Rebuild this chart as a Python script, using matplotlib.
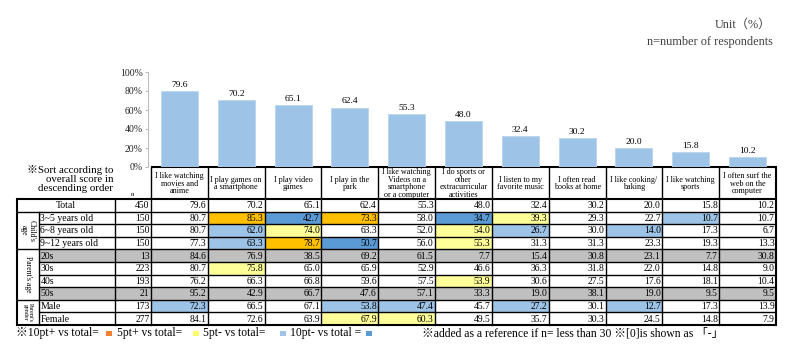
import matplotlib
matplotlib.use('Agg')
import matplotlib.pyplot as plt
from matplotlib.patches import Rectangle

plt.rcParams['font.family'] = ['Liberation Serif', 'Noto Sans CJK JP']

categories = [
    "I like watching\nmovies and\nanime",
    "I play games on\na smartphone",
    "I play video\ngames",
    "I play in the\npark",
    "I like watching\nVideos on a\nsmartphone\nor a computer",
    "I do sports or\nother\nextracurricular\nactivities",
    "I listen to my\nfavorite music",
    "I often read\nbooks at home",
    "I like cooking/\nbaking",
    "I like watching\nsports",
    "I often surf the\nweb on the\ncomputer",
]
row_labels = ["Total", "3~5 years old", "6~8 years old", "9~12 years old",
              "20s", "30s", "40s", "50s", "Male", "Female"]
n_values = [450, 150, 150, 150, 13, 223, 193, 21, 173, 277]

total    = [79.6, 70.2, 65.1, 62.4, 55.3, 48.0, 32.4, 30.2, 20.0, 15.8, 10.2]
age_3_5  = [80.7, 85.3, 42.7, 73.3, 58.0, 34.7, 39.3, 29.3, 22.7, 10.7, 10.7]
age_6_8  = [80.7, 62.0, 74.0, 63.3, 52.0, 54.0, 26.7, 30.0, 14.0, 17.3, 6.7]
age_9_12 = [77.3, 63.3, 78.7, 50.7, 56.0, 55.3, 31.3, 31.3, 23.3, 19.3, 13.3]
par_20s  = [84.6, 76.9, 38.5, 69.2, 61.5, 7.7, 15.4, 30.8, 23.1, 7.7, 30.8]
par_30s  = [80.7, 75.8, 65.0, 65.9, 52.9, 46.6, 36.3, 31.8, 22.0, 14.8, 9.0]
par_40s  = [76.2, 66.3, 66.8, 59.6, 57.5, 53.9, 30.6, 27.5, 17.6, 18.1, 10.4]
par_50s  = [95.2, 42.9, 66.7, 47.6, 57.1, 33.3, 19.0, 38.1, 19.0, 9.5, 9.5]
male     = [72.3, 66.5, 67.1, 53.8, 47.4, 45.7, 27.2, 30.1, 12.7, 17.3, 13.9]
female   = [84.1, 72.6, 63.9, 67.9, 60.3, 49.5, 35.7, 30.3, 24.5, 14.8, 7.9]
table_rows = [total, age_3_5, age_6_8, age_9_12, par_20s, par_30s, par_40s,
              par_50s, male, female]

groups = [("Child's\nage", 1, 3, 5.6), ("Parent's age", 4, 7, 5.6),
          ("Parent's\ngender", 8, 9, 4.3)]
yticks = [0, 20, 40, 60, 80, 100]

C_BAR = '#9DC3E6'
C_UP10, C_UP5, C_DN5, C_DN10 = '#FFC000', '#FFFF99', '#9DC3E6', '#5B9BD5'
C_GRAY = '#C0C0C0'

W, H = 790, 360
fig = plt.figure(figsize=(7.9, 3.6), dpi=100)
fig.patch.set_facecolor('white')

# geometry (pixels)
x_grp, x_lab, x_n, x_d0, x_end = 17, 39, 115, 151, 776
ncol = len(categories)
cw = (x_end - x_d0) / ncol
y_top100, y_head, y_row0, rh = 72, 167, 199, 12.6
nrow = len(row_labels)
y_bot = y_row0 + nrow * rh

# ---- bar chart ----
ax_b = fig.add_axes([x_d0 / W, 1 - y_head / H, (x_end - x_d0) / W, (y_head - y_top100) / H])
xs = list(range(ncol))
ax_b.bar(xs, total, width=0.65, color=C_BAR, edgecolor='#BDD7EE', linewidth=0.7)
for i, v in zip(xs, total):
    ax_b.text(i, v + 2.5, f'{v:.1f}', ha='center', va='bottom', fontsize=6.8)
ax_b.set_xlim(-0.5, ncol - 0.5)
ax_b.set_ylim(0, 100)
ax_b.set_yticks(yticks)
ax_b.set_yticklabels([f'{t}%' for t in yticks])
ax_b.set_xticks([])
for s in ['top', 'right', 'bottom']:
    ax_b.spines[s].set_visible(False)
ax_b.spines['left'].set_color('#BFBFBF')
ax_b.spines['left'].set_position(('outward', 2))
ax_b.tick_params(axis='y', length=2, color='#BFBFBF', pad=2, labelsize=7.0, labelcolor='#222222')
ax_b.patch.set_alpha(0)

# ---- table ----
ax = fig.add_axes([0, 0, 1, 1], zorder=-1)
ax.set_xlim(0, W)
ax.set_ylim(H, 0)
ax.axis('off')

def cell_color(r, c):
    if n_values[r] < 30:
        return C_GRAY
    if r == 0:
        return None
    d = round(table_rows[r][c] - total[c], 1)
    if d >= 10:
        return C_UP10
    if d >= 5:
        return C_UP5
    if d <= -10:
        return C_DN10
    if d <= -5:
        return C_DN5
    return None

fs_num = 6.9
for r in range(nrow):
    yt = y_row0 + r * rh
    yc = yt + rh / 2 + 0.4
    if n_values[r] < 30:
        ax.add_patch(Rectangle((x_lab, yt), x_d0 - x_lab, rh, color=C_GRAY, lw=0))
    for c in range(ncol):
        col = cell_color(r, c)
        xl = x_d0 + c * cw
        if col:
            ax.add_patch(Rectangle((xl, yt), cw, rh, color=col, lw=0))
        ax.text(xl + cw - 1.5, yc, f'{table_rows[r][c]:.1f}', ha='right', va='center', fontsize=fs_num)
    ax.text(x_d0 - 1.5, yc, str(n_values[r]), ha='right', va='center', fontsize=fs_num)
    if r == 0:
        ax.text((x_grp + x_n) / 2, yc, row_labels[r], ha='center', va='center', fontsize=7.0)
    else:
        ax.text(x_lab + 1.5, yc, row_labels[r], ha='left', va='center', fontsize=7.0)

for lab, r0, r1, fs in groups:
    yc = y_row0 + (r0 + r1 + 1) / 2 * rh
    ax.text((x_grp + x_lab) / 2, yc, lab, rotation=-90, ha='center', va='center',
            fontsize=fs, linespacing=0.95, rotation_mode='anchor')

# header labels
for c, lab in enumerate(categories):
    ax.text(x_d0 + (c + 0.5) * cw, (y_head + y_row0) / 2 + 0.5, lab, ha='center', va='center',
            fontsize=5.9, linespacing=0.92)

lw_in, lw_out = 1.0, 1.5
group_bounds = {0, 1, 4, 8, nrow}
for k in range(nrow + 1):
    y = y_row0 + k * rh
    x0 = x_grp if k in group_bounds else x_lab
    ax.plot([x0, x_end], [y, y], color='black', lw=lw_out if k in (0, nrow) else lw_in,
            solid_capstyle='butt')
ax.plot([x_d0, x_end], [y_head, y_head], color='black', lw=lw_out, solid_capstyle='butt')
ax.plot([x_grp, x_grp], [y_row0, y_bot], color='black', lw=lw_out)
ax.plot([x_lab, x_lab], [y_row0 + rh, y_bot], color='black', lw=lw_in)
ax.plot([x_n, x_n], [y_row0, y_bot], color='black', lw=lw_in)
for c in range(ncol + 1):
    x = x_d0 + c * cw
    ax.plot([x, x], [y_head, y_bot], color='black', lw=lw_out if c == ncol else lw_in)

# side note and n
ax.text(113, 179, "※Sort according to\noverall score in\ndescending order", ha='right', va='center',
        fontsize=7.8, linespacing=1.05)
ax.text(133, 194, "n", ha='center', va='center', fontsize=5)

# top-right unit text
ax.text(771, 25, "Unit（%）", ha='right', va='center', fontsize=8.8, color='#404040')
ax.text(773, 42, "n=number of respondents", ha='right', va='center', fontsize=8.8, color='#404040')

# legend notes
ly = 333
ax.text(16, ly, "※10pt+ vs total=", ha='left', va='center', fontsize=8.4)
ax.text(117, ly, "5pt+ vs total=", ha='left', va='center', fontsize=8.4)
ax.text(203, ly, "5pt- vs total=", ha='left', va='center', fontsize=8.4)
ax.text(290, ly, "10pt- vs total =", ha='left', va='center', fontsize=8.4)
for xq, colq in [(106, '#F08030'), (193, '#FFFF66'), (280, C_DN5), (366, C_DN10)]:
    ax.add_patch(Rectangle((xq, ly - 2.5), 5.5, 5.5, color=colq, lw=0))
ax.text(422, ly, "※added as a reference if n= less than 30 ※[0]is shown as 「-」", ha='left',
        va='center', fontsize=8.4)

fig.savefig('out.png', dpi=100)
